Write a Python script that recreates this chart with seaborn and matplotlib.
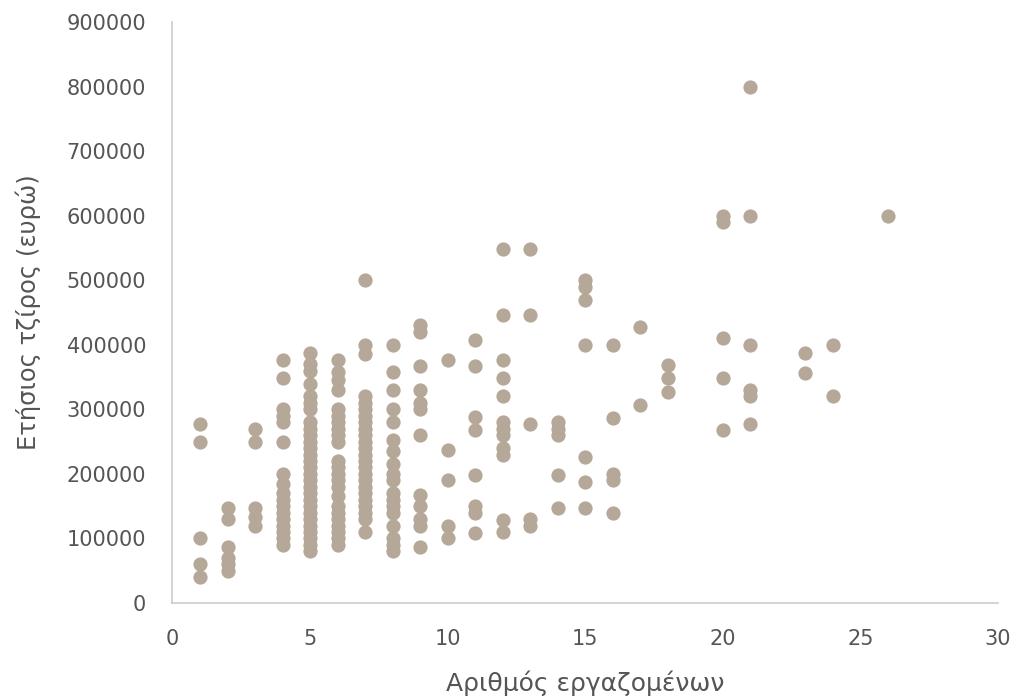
import matplotlib
matplotlib.use("Agg")
import matplotlib.pyplot as plt
import seaborn as sns
import pandas as pd

# number of employees per firm and annual turnover (euro), read column by column
employees = (
    [1] * 5 + [2] * 6 + [3] * 5 + [4] * 17 + [5] * 28 + [6] * 23 + [7] * 24
    + [8] * 18 + [9] * 12 + [10] * 5 + [11] * 8 + [12] * 12 + [13] * 5
    + [14] * 5 + [15] * 7 + [16] * 5 + [17] * 2 + [18] * 3 + [20] * 5
    + [21] * 6 + [23] * 2 + [24] * 2 + [26] * 1
)
turnover = [
    278000, 250000, 100000, 60000, 40000,                                   # 1
    147000, 130000, 87000, 70000, 60000, 50000,                             # 2
    270000, 250000, 147000, 133000, 120000,                                 # 3
    377000, 349000, 300000, 290000, 280000, 250000, 200000, 185000, 170000,
    160000, 150000, 140000, 130000, 120000, 110000, 100000, 90000,          # 4
    387000, 370000, 360000, 340000, 320000, 310000, 300000, 280000, 270000,
    260000, 250000, 240000, 230000, 220000, 210000, 200000, 190000, 180000,
    170000, 160000, 150000, 140000, 130000, 120000, 110000, 100000, 90000,
    80000,                                                                  # 5
    376000, 358000, 346000, 330000, 300000, 290000, 280000, 270000, 260000,
    250000, 220000, 210000, 200000, 190000, 180000, 165000, 150000, 140000,
    130000, 120000, 110000, 100000, 90000,                                  # 6
    500000, 400000, 385000, 320000, 310000, 300000, 290000, 280000, 270000,
    260000, 250000, 240000, 230000, 220000, 210000, 200000, 190000, 180000,
    170000, 160000, 150000, 140000, 130000, 110000,                         # 7
    400000, 358000, 330000, 300000, 281000, 252000, 235000, 215000, 200000,
    190000, 170000, 160000, 150000, 140000, 120000, 100000, 90000, 80000,   # 8
    430000, 420000, 367000, 330000, 310000, 300000, 260000, 167000, 150000,
    130000, 120000, 87000,                                                  # 9
    376000, 237000, 190000, 120000, 100000,                                 # 10
    408000, 367000, 288000, 268000, 198000, 150000, 140000, 108000,         # 11
    549000, 446000, 376000, 348000, 320000, 280000, 270000, 260000, 240000,
    230000, 128000, 110000,                                                 # 12
    549000, 446000, 278000, 130000, 120000,                                 # 13
    280000, 270000, 260000, 198000, 147000,                                 # 14
    500000, 490000, 470000, 400000, 226000, 188000, 147000,                 # 15
    400000, 286000, 200000, 190000, 139000,                                 # 16
    428000, 307000,                                                         # 17
    368000, 348000, 327000,                                                 # 18
    600000, 590000, 410000, 348000, 268000,                                 # 20
    800000, 600000, 400000, 330000, 320000, 278000,                         # 21
    387000, 357000,                                                         # 23
    400000, 320000,                                                         # 24
    600000,                                                                 # 26
]

x_ticks = [0, 5, 10, 15, 20, 25, 30]
y_ticks = [0, 100000, 200000, 300000, 400000, 500000, 600000, 700000, 800000, 900000]

df = pd.DataFrame({"employees": employees, "turnover": turnover})

sns.set_style("white")
plt.rcParams["font.family"] = ["DejaVu Sans"]

fig = plt.figure(figsize=(10.17, 6.97), dpi=100)
ax = fig.add_axes([0.1696, 0.1349, 0.8117, 0.8335])

sns.scatterplot(data=df, x="employees", y="turnover", color="#b5a898",
                s=105, linewidth=0, alpha=1, ax=ax)

ax.set_xlim(0, 30)
ax.set_ylim(0, 900000)
ax.set_xticks(x_ticks)
ax.set_xticklabels([str(v) for v in x_ticks])
ax.set_yticks(y_ticks)
ax.set_yticklabels([str(v) for v in y_ticks])
ax.tick_params(axis="both", length=0, labelsize=15, colors="#555555")
ax.tick_params(axis="x", pad=19)
ax.tick_params(axis="y", pad=19)

for side in ["top", "right"]:
    ax.spines[side].set_visible(False)
for side in ["left", "bottom"]:
    ax.spines[side].set_color("#cccccc")
    ax.spines[side].set_linewidth(1.2)

ax.set_xlabel("Αριθμός εργαζομένων", fontsize=18, color="#555555", labelpad=15)
ax.set_ylabel("Ετήσιος τζίρος (ευρώ)", fontsize=17.5, color="#555555", labelpad=18)

fig.savefig("out.png", dpi=100)
